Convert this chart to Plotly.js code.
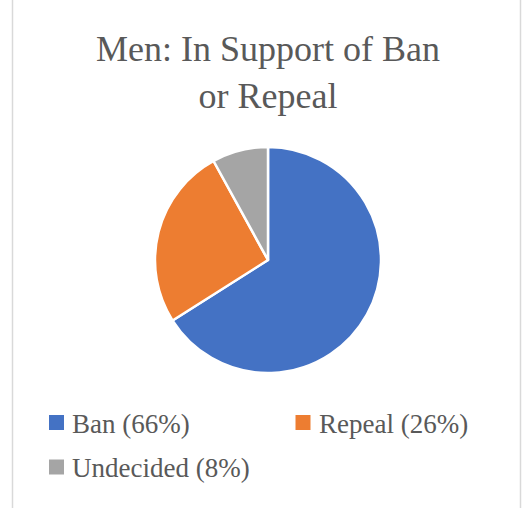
<!DOCTYPE html>
<html>
<head>
<meta charset="utf-8">
<script src="https://cdn.plot.ly/plotly-3.0.1.min.js"></script>
<style>
html,body{margin:0;padding:0;background:#fff;}
.modebar-container{display:none !important;}
</style>
</head>
<body>
<div id="chart" style="width:524px;height:508px"></div>
<script>
const categories = ["Ban (66%)", "Repeal (26%)", "Undecided (8%)"];
const values = [66, 26, 8];
const sliceColors = ["#4472C4", "#ED7D31", "#A5A5A5"];
const chartTitle = "Men: In Support of Ban<br>or Repeal";

const W = 524, H = 508;
const cx = 268, cy = 260, r = 113;
const FONT = "Liberation Serif";
const TEXT_COLOR = "#595959";

const trace = {
  type: "pie",
  labels: categories,
  values: values,
  sort: false,
  direction: "clockwise",
  rotation: 0,
  textinfo: "none",
  hoverinfo: "label+value",
  showlegend: false,
  marker: { colors: sliceColors, line: { color: "#ffffff", width: 2.5 } },
  domain: { x: [(cx - r) / W, (cx + r) / W], y: [1 - (cy + r) / H, 1 - (cy - r) / H] }
};

// Legend laid out like the reference: two entries on the first row, one on the second.
const legendSlots = [
  { sx: 49, cy: 422.5 },
  { sx: 295.5, cy: 422.5 },
  { sx: 49, cy: 467 }
];
const sq = 15;
const shapes = [
  { type: "line", xref: "paper", yref: "paper", x0: 12.5 / W, x1: 12.5 / W, y0: 0, y1: 1, line: { color: "#D9D9D9", width: 1.5 } },
  { type: "line", xref: "paper", yref: "paper", x0: 520.5 / W, x1: 520.5 / W, y0: 0, y1: 1, line: { color: "#D9D9D9", width: 1.5 } }
];
const annotations = [];
categories.forEach(function (label, i) {
  const s = legendSlots[i];
  shapes.push({
    type: "rect", xref: "paper", yref: "paper",
    x0: s.sx / W, x1: (s.sx + sq) / W,
    y0: 1 - (s.cy + sq / 2) / H, y1: 1 - (s.cy - sq / 2) / H,
    fillcolor: sliceColors[i], line: { width: 0 }
  });
  annotations.push({
    xref: "paper", yref: "paper",
    x: (s.sx + sq + 6) / W, xanchor: "left",
    y: 1 - (s.cy + 1) / H, yanchor: "middle",
    text: label, showarrow: false,
    font: { family: FONT, size: 27, color: TEXT_COLOR }
  });
});

const layout = {
  width: W, height: H,
  margin: { l: 0, r: 0, t: 0, b: 0 },
  title: {
    text: chartTitle,
    font: { family: FONT, size: 36, color: TEXT_COLOR },
    x: 268 / W, xanchor: "center",
    y: 1 - 61 / H, yanchor: "top"
  },
  showlegend: false,
  shapes: shapes,
  annotations: annotations
};

Plotly.newPlot("chart", [trace], layout);
</script>
</body>
</html>
